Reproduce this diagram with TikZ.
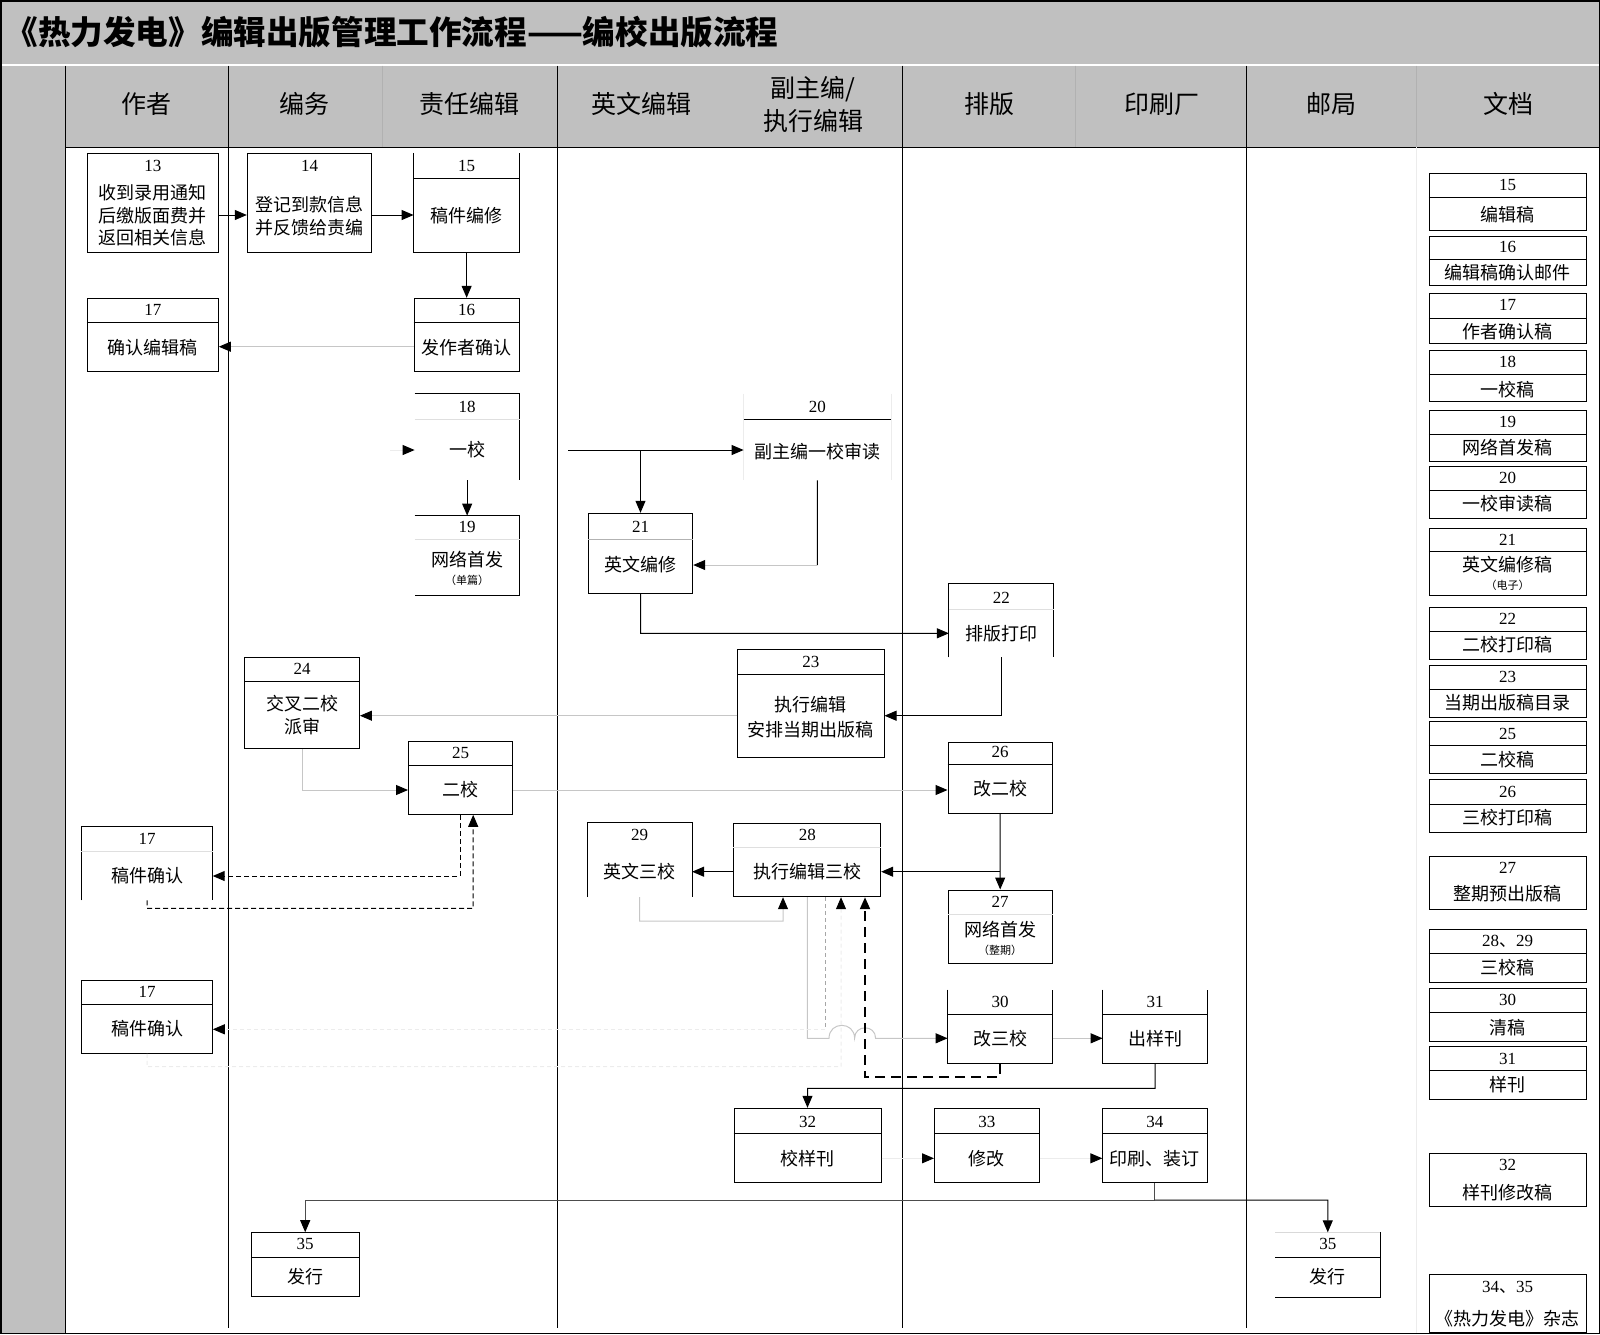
\documentclass[tikz,border=0pt]{standalone}
\usepackage{fontspec}
\setmainfont{Liberation Serif}
\newfontfamily\cjk{Noto Sans CJK SC}
\usetikzlibrary{arrows.meta,fit,calc}
\definecolor{hdr}{HTML}{C0C0C0}
\newcommand\mkbox[8]{%
  \node[fit={(#2,#3)(#4,#5)},inner sep=0pt,#6] (#1) {};
  \node[nb] at (#1.center |- 0,#8) {#7};}
\newcommand\hdiv[3][dv]{\draw[#1] (#2.west |- 0,#3) -- (#2.east |- 0,#3);}
\begin{document}
\begin{tikzpicture}[x=0.5pt,y=-0.5pt,
 ln/.style={draw=black,line width=0.5pt},
 bx/.style={draw=black,line width=0.5pt},
 ob/.style={draw=none},
 nb/.style={inner sep=0pt,font=\fontsize{8.5}{9}\selectfont},
 tx/.style={inner sep=0pt,font=\cjk\fontsize{9}{11.4}\selectfont,align=center},
 sm/.style={inner sep=0pt,font=\cjk\fontsize{5.5}{6}\selectfont},
 hd/.style={inner sep=0pt,font=\cjk\fontsize{12.5}{17}\selectfont,align=center},
 tip/.style={-{Triangle[length=6pt,width=5pt,color=black]}},
 arr/.style={tip,draw=black,line width=0.5pt},
 garr/.style={tip,draw=gray!45,line width=0.5pt},
 farr/.style={tip,draw=gray!15,line width=0.5pt},
 darr/.style={tip,draw=black,line width=0.5pt,dash pattern=on 2.5pt off 1.5pt},
 tdarr/.style={tip,draw=black,line width=1pt,dash pattern=on 5pt off 3pt},
 dv/.style={draw=black,line width=0.5pt},
 fdv/.style={draw=gray!25,line width=0.5pt},
]
\useasboundingbox (0,0) rectangle (1600,1334);
% ---------- frame ----------
\fill[hdr] (0,0) rectangle (1600,64);
\fill[hdr] (0,65.5) rectangle (1600,147);
\fill[hdr] (0,65.5) rectangle (65,1334);
\draw[white,line width=0.8pt] (0,64.7) -- (1600,64.7);
\draw[ln] (65,65.5) -- (65,1334);
\draw[ln] (65,147) -- (1600,147);
\foreach \x in {228.5,557.3,902.3,1246.5} \draw[ln] (\x,65.5) -- (\x,1328);
\foreach \x in {382.6,1075.5} \draw[hdr!92!black,line width=0.5pt] (\x,65.5) -- (\x,147);
\draw[hdr!92!black,line width=0.5pt] (1416,65.5) -- (1416,147);
\draw[gray!15,line width=0.5pt] (1416,147) -- (1416,1334);
\draw[line width=0.75pt] (0.75,0.75) rectangle (1599.25,1333.25);
% ---------- title and headers ----------
\node[anchor=west,inner sep=0pt,font=\cjk\bfseries\fontsize{16.3}{18}\selectfont] (title) at (5,32) {《热力发电》编辑出版管理工作流程——编校出版流程};
\node[hd] (h1) at (146,104) {作者};
\node[hd] (h2) at (304,104) {编务};
\node[hd] (h3) at (469,104) {责任编辑};
\node[hd] (h4) at (641,104) {英文编辑};
\node[hd] (h5a) at (813,89) {副主编/};
\node[hd] (h5b) at (813,121) {执行编辑};
\node[hd] (h6) at (989,104) {排版};
\node[hd] (h7) at (1162,104) {印刷厂};
\node[hd] (h8) at (1331,104) {邮局};
\node[hd] (h9) at (1508,104) {文档};
% ---------- process boxes ----------
\mkbox{b13}{87.3}{153.3}{218.3}{252.3}{bx}{13}{166}
\node[tx,font=\cjk\fontsize{9}{11.25}\selectfont] at (152.8,215.5) {收到录用通知\\后缴版面费并\\返回相关信息};
\mkbox{b14}{247.3}{153.3}{371.7}{252.3}{bx}{14}{165.5}
\node[tx] at (309.5,216.5) {登记到款信息\\并反馈给责编};
\mkbox{b15}{414}{153.3}{519.3}{252.3}{ob}{15}{166}
\draw[ln] (b15.north west) -- (b15.south west) -- (b15.south east) -- (b15.north east);
\hdiv{b15}{178.3}
\node[tx] at (466.7,216) {稿件编修};
\mkbox{b16}{414}{298.3}{519.3}{371}{bx}{16}{310}
\hdiv{b16}{322.3}
\node[tx] at (466.7,348) {发作者确认};
\mkbox{b17a}{87.3}{298.3}{218.3}{371}{bx}{17}{310}
\hdiv{b17a}{322.3}
\node[tx] at (152.8,348) {确认编辑稿};
\mkbox{b18}{415}{394}{519.3}{480}{ob}{18}{406.7}
\draw[ln] (b18.north west) -- (b18.north east) -- (b18.south east);
\hdiv[fdv]{b18}{419.3}
\node[tx] at (467.2,450) {一校};
\mkbox{b19}{415}{516}{519.3}{595}{ob}{19}{527}
\draw[ln] (b19.north west) -- (b19.north east) -- (b19.south east) -- (b19.south west);
\hdiv[fdv]{b19}{539}
\node[tx] at (467.2,560) {网络首发};
\node[sm] at (467.2,580) {（单篇）};
\mkbox{b20}{744}{394}{890.7}{480}{ob}{20}{407}
\draw[gray!15,line width=0.5pt] (b20.north west) -- (b20.south west) (b20.north east) -- (b20.south east);
\hdiv{b20}{419.3}
\node[tx] at (817.4,451.7) {副主编一校审读};
\mkbox{b21}{588.3}{513.3}{692.7}{593.3}{bx}{21}{526.7}
\hdiv[draw=gray!60]{b21}{539}
\node[tx] at (640.5,565) {英文编修};
\mkbox{b22}{949.3}{584.3}{1053.3}{657}{ob}{22}{598}
\draw[ln] (b22.south west) -- (b22.north west) -- (b22.north east) -- (b22.south east);
\hdiv[fdv]{b22}{609.3}
\node[tx] at (1001.3,633.3) {排版打印};
\mkbox{b23}{737.5}{649.3}{884}{757.3}{bx}{23}{661.7}
\hdiv{b23}{674.3}
\node[tx,font=\cjk\fontsize{9}{12.5}\selectfont] at (810.8,717.5) {执行编辑\\安排当期出版稿};
\mkbox{b24}{244.6}{657.3}{359.4}{748.3}{bx}{24}{669.3}
\hdiv{b24}{681.3}
\node[tx] at (302,715.3) {交叉二校\\派审};
\mkbox{b25}{408.5}{741.3}{512.5}{814.3}{bx}{25}{753.3}
\hdiv{b25}{765.3}
\node[tx] at (460.5,790) {二校};
\mkbox{b26}{948}{742}{1052}{813}{bx}{26}{752}
\hdiv{b26}{764.5}
\node[tx] at (1000,789) {改二校};
\mkbox{b27}{948}{890}{1052.4}{963.3}{bx}{27}{901.7}
\hdiv[fdv]{b27}{914.3}
\node[tx] at (1000.2,930) {网络首发};
\node[sm] at (1000.2,950) {（整期）};
\mkbox{b28}{733.8}{823.3}{880.7}{896.7}{bx}{28}{835}
\hdiv[fdv]{b28}{847.5}
\node[tx] at (807.3,871.7) {执行编辑三校};
\mkbox{b29}{587.4}{823.3}{691.7}{896.7}{ob}{29}{835}
\draw[ln] (b29.south west) -- (b29.north west) -- (b29.north east) -- (b29.south east);
\node[tx] at (639.6,871.7) {英文三校};
\mkbox{b30}{948}{990}{1052.4}{1063.3}{ob}{30}{1001.7}
\draw[ln] (b30.north west) -- (b30.south west) -- (b30.south east) -- (b30.north east);
\hdiv{b30}{1014.3}
\node[tx] at (1000.2,1038.3) {改三校};
\mkbox{b31}{1103}{990}{1207.3}{1063.3}{ob}{31}{1001.7}
\draw[ln] (b31.north west) -- (b31.south west) -- (b31.south east) -- (b31.north east);
\hdiv{b31}{1014.3}
\node[tx] at (1155.2,1038.3) {出样刊};
\mkbox{b32}{734}{1108.3}{881}{1182.3}{bx}{32}{1121.7}
\hdiv{b32}{1133.3}
\node[tx] at (807.5,1158.3) {校样刊};
\mkbox{b33}{934.5}{1108.3}{1039.3}{1182.3}{bx}{33}{1121.7}
\hdiv{b33}{1133.3}
\node[tx] at (986.9,1158.3) {修改};
\mkbox{b34}{1102.8}{1108.3}{1207}{1182.3}{bx}{34}{1121.7}
\hdiv{b34}{1133.3}
\node[tx] at (1154.9,1158.3) {印刷、装订};
\mkbox{b35a}{251.3}{1232.7}{359.1}{1296.7}{bx}{35}{1244}
\hdiv{b35a}{1257.7}
\node[tx] at (305.2,1276.7) {发行};
\mkbox{b35b}{1275.7}{1232.7}{1379.8}{1296.7}{ob}{35}{1244}
\draw[gray!30,line width=0.5pt] (b35b.north west) -- (b35b.north east);
\draw[ln] (b35b.north east) -- (b35b.south east) -- (b35b.south west);
\hdiv{b35b}{1257.7}
\node[tx] at (1327.8,1276.7) {发行};
\mkbox{b17b}{81.7}{827.3}{212.3}{900}{ob}{17}{839.3}
\draw[ln] (b17b.south west) -- (b17b.north west) -- (b17b.north east) -- (b17b.south east);
\hdiv[fdv]{b17b}{851.7}
\node[tx] at (147,876) {稿件确认};
\mkbox{b17c}{81.7}{980.3}{212.3}{1053.3}{bx}{17}{991.7}
\hdiv{b17c}{1004}
\node[tx] at (147,1028.3) {稿件确认};
% ---------- document column ----------
\mkbox{d15}{1429.3}{173.3}{1586}{230.7}{bx}{15}{185}
\hdiv{d15}{197.7}
\node[tx] at (1507.7,215) {编辑稿};
\mkbox{d16}{1429.3}{236.7}{1586}{285.7}{bx}{16}{247.3}
\hdiv{d16}{259.3}
\node[tx] at (1507.7,272.7) {编辑稿确认邮件};
\mkbox{d17}{1429.3}{293.3}{1586}{343.3}{bx}{17}{305}
\hdiv{d17}{318.3}
\node[tx] at (1507.7,331.7) {作者确认稿};
\mkbox{d18}{1429.3}{350}{1586}{401.7}{bx}{18}{361.7}
\hdiv{d18}{374.3}
\node[tx] at (1507.7,389.3) {一校稿};
\mkbox{d19}{1429.3}{410}{1586}{461.7}{bx}{19}{421.7}
\hdiv{d19}{434.3}
\node[tx] at (1507.7,448) {网络首发稿};
\mkbox{d20}{1429.3}{466}{1586}{518.3}{bx}{20}{478}
\hdiv{d20}{490.7}
\node[tx] at (1507.7,504) {一校审读稿};
\mkbox{d21}{1429.3}{528.3}{1586}{595}{bx}{21}{540}
\hdiv{d21}{551.7}
\node[tx] at (1507.7,565) {英文编修稿};
\node[sm] at (1507.7,585) {（电子）};
\mkbox{d22}{1429.3}{607.3}{1586}{659.3}{bx}{22}{619.3}
\hdiv{d22}{631.7}
\node[tx] at (1507.7,645) {二校打印稿};
\mkbox{d23}{1429.3}{665}{1586}{717.3}{bx}{23}{677}
\hdiv{d23}{689.3}
\node[tx] at (1507.7,703) {当期出版稿目录};
\mkbox{d25}{1429.3}{721.7}{1586}{773.3}{bx}{25}{733.7}
\hdiv{d25}{745.7}
\node[tx] at (1507.7,759.5) {二校稿};
\mkbox{d26}{1429.3}{779.3}{1586}{832.3}{bx}{26}{791.7}
\hdiv{d26}{804}
\node[tx] at (1507.7,818) {三校打印稿};
\mkbox{d27}{1429.3}{856}{1586}{909.3}{bx}{27}{868.3}
\node[tx] at (1507.7,894) {整期预出版稿};
\mkbox{d28}{1429.3}{929.3}{1586}{982.3}{bx}{28{\cjk 、}29}{941.7}
\hdiv{d28}{953.3}
\node[tx] at (1507.7,967.7) {三校稿};
\mkbox{d30}{1429.3}{988.3}{1586}{1041}{bx}{30}{1000}
\hdiv{d30}{1012.3}
\node[tx] at (1507.7,1027.7) {清稿};
\mkbox{d31}{1429.3}{1046.7}{1586}{1099}{bx}{31}{1058.7}
\hdiv{d31}{1070.7}
\node[tx] at (1507.7,1085) {样刊};
\mkbox{d32}{1429.3}{1153.3}{1586}{1206.7}{bx}{32}{1165}
\node[tx] at (1507.7,1192.3) {样刊修改稿};
\mkbox{d34}{1429.3}{1274}{1586}{1332.5}{bx}{34{\cjk 、}35}{1287.3}
\node[tx] at (1507.7,1318.3) {《热力发电》杂志};
% ---------- connectors ----------
\draw[arr] (b13.east |- 0,215) -- (b14.west |- 0,215);
\draw[arr] (b14.east |- 0,215) -- (b15.west |- 0,215);
\draw[arr] (b15.south) -- (b16.north);
\draw[garr] (b16.west |- 0,346.7) -- (b17a.east |- 0,346.7);
\coordinate (i18) at (390,450);
\draw[farr] (i18) -- (i18 -| b18.west);
\draw[arr] (b18.south) -- (b19.north);
\coordinate (s20) at (568.3,450);
\draw[arr] (s20) -- (s20 -| b20.west);
\draw[arr] (s20 -| b21.north) -- (b21.north);
\coordinate (c20) at (817.35,565);
\draw[ln] (b20.south) -- (c20);
\draw[garr] (c20) -- (c20 -| b21.east);
\coordinate (c21) at (640.5,633.3);
\draw[arr] (b21.south) -- (c21) -- (c21 -| b22.west);
\coordinate (c22) at (1001.3,715.7);
\draw[arr] (b22.south) -- (c22) -- (c22 -| b23.east);
\draw[garr] (b23.west |- 0,715.7) -- (b24.east |- 0,715.7);
\coordinate (c24) at (302,790);
\draw[garr] (b24.south) -- (c24) -- (c24 -| b25.west);
\draw[garr] (b25.east |- 0,790) -- (b26.west |- 0,790);
\draw[arr] (b26.south) -- (b27.north);
\coordinate (c26) at (1000,871.7);
\draw[arr] (c26) -- (c26 -| b28.east);
\draw[arr] (b28.west |- 0,871.7) -- (b29.east |- 0,871.7);
\coordinate (c29a) at (639.5,921);
\coordinate (c29b) at (783,921);
\draw[garr] (b29.south) -- (c29a) -- (c29b) -- (c29b |- b28.south);
\coordinate (d1) at (460,876);
\draw[darr] (b25.south -| d1) -- (d1) -- (d1 -| b17b.east);
\coordinate (d2) at (147,908.3);
\coordinate (d3) at (473.2,908.3);
\draw[darr] (b17b.south) -- (d2) -- (d3) -- (d3 |- b25.south);
\coordinate (j0) at (807.3,1038.3);
\draw[garr] (b28.south) -- (j0) -- (829,1038.3) .. controls (829,1021) and (854.6,1021) .. (854.6,1038.3) .. controls (854.6,1024.3) and (875.6,1024.3) .. (875.6,1038.3) -- (j0 -| b30.west);
\coordinate (e1) at (825,1029.3);
\draw[gray!70,line width=0.5pt,dash pattern=on 2pt off 1.5pt] (b28.south -| e1) -- (e1);
\draw[farr,dash pattern=on 2pt off 1.5pt] (e1) -- (e1 -| b17c.east);
\coordinate (f1) at (147,1066.7);
\coordinate (f2) at (841,1066.7);
\draw[farr,dash pattern=on 2pt off 1.5pt] (b17c.south) -- (f1) -- (f2) -- (f2 |- b28.south);
\coordinate (g1) at (1000.2,1076.7);
\coordinate (g2) at (865,1076.7);
\draw[tdarr] (b30.south) -- (g1) -- (g2) -- (g2 |- b28.south);
\draw[garr] (b30.east |- 0,1038.3) -- (b31.west |- 0,1038.3);
\coordinate (h1) at (1155.2,1088.3);
\coordinate (h2) at (807.5,1088.3);
\draw[arr] (b31.south) -- (h1) -- (h2) -- (b32.north);
\draw[farr] (b32.east |- 0,1158.3) -- (b33.west |- 0,1158.3);
\draw[farr] (b33.east |- 0,1158.3) -- (b34.west |- 0,1158.3);
\coordinate (k1) at (1154.9,1200);
\coordinate (k2) at (305.2,1200);
\coordinate (k3) at (1327.75,1200);
\draw[arr,draw=black!70] (b34.south) -- (k1) -- (k2) -- (b35a.north);
\draw[arr] (k1) -- (k3) -- (b35b.north);
\end{tikzpicture}
\end{document}
